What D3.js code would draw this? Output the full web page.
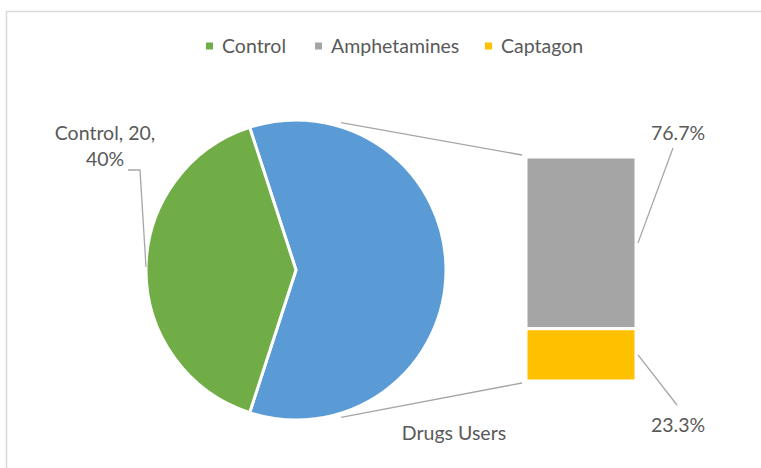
<!DOCTYPE html>
<html>
<head>
<meta charset="utf-8">
<script src="https://cdn.jsdelivr.net/npm/d3@7"></script>
<style>
  html, body { margin: 0; padding: 0; background: #fff; }
  svg { display: block; }
  text { font-family: Lato, "Open Sans", "Liberation Sans", sans-serif; fill: #595959; }
</style>
</head>
<body>
<svg id="chart" width="761" height="468"></svg>
<script>
// Main pie: control group vs. all drug users
const groups = ["Control", "Drugs Users"];
const groupValues = [20, 30];
// Breakdown of the drug users shown in the stacked bar
const subgroups = ["Amphetamines", "Captagon"];
const subValues = [23, 7];
const legendItems = ["Control", "Amphetamines", "Captagon"];

const colors = {
  "Control": "#70AD47",
  "Drugs Users": "#5B9BD5",
  "Amphetamines": "#A5A5A5",
  "Captagon": "#FFC000"
};
const lineColor = "#A6A6A6";
const fontSize = 19.5;

const svg = d3.select("#chart");

// chart area border (clipped on the right and bottom)
svg.append("path")
  .attr("d", "M6.5,468 V11.5 H761")
  .attr("fill", "none")
  .attr("stroke", "#D9D9D9")
  .attr("stroke-width", 1.5);

// ---------- legend ----------
const legendX = { "Control": 206, "Amphetamines": 315, "Captagon": 485 };
const legend = svg.append("g");
legendItems.forEach(name => {
  const g = legend.append("g").attr("transform", `translate(${legendX[name]},46)`);
  g.append("rect").attr("x", 0).attr("y", -3.5).attr("width", 7).attr("height", 7)
    .attr("fill", colors[name]);
  g.append("text").attr("x", 16).attr("y", 0).attr("dy", "0.35em")
    .attr("font-size", fontSize).text(name);
});

// ---------- pie ----------
const cx = 296, cy = 270, r = 150;
const total = d3.sum(groupValues);
const drugShare = groupValues[1] / total;
// the "other" slice (drug users) is centred on the 3 o'clock direction
const start = Math.PI / 2 - drugShare * Math.PI;

const pieData = d3.pie()
  .sort(null)
  .value(d => d.value)
  .startAngle(start)
  .endAngle(start + 2 * Math.PI)([
    { name: groups[1], value: groupValues[1] },
    { name: groups[0], value: groupValues[0] }
  ]);

const arc = d3.arc().innerRadius(0).outerRadius(r);
const pie = svg.append("g").attr("transform", `translate(${cx},${cy})`);
pie.selectAll("path").data(pieData).join("path")
  .attr("d", arc)
  .attr("fill", d => colors[d.data.name])
  .attr("stroke", "#fff")
  .attr("stroke-width", 3)
  .attr("stroke-linejoin", "miter");

// ---------- stacked bar of drug users ----------
const barX = 526, barW = 110;
const yBar = d3.scaleLinear().domain([0, d3.sum(subValues)]).range([157, 381]);
let acc = 0;
const barData = subgroups.map((name, i) => {
  const d = { name, value: subValues[i], y0: acc, y1: acc + subValues[i] };
  acc += subValues[i];
  return d;
});
svg.append("g").selectAll("rect").data(barData).join("rect")
  .attr("x", barX)
  .attr("y", d => yBar(d.y0))
  .attr("width", barW)
  .attr("height", d => yBar(d.y1) - yBar(d.y0))
  .attr("fill", d => colors[d.name])
  .attr("stroke", "#fff")
  .attr("stroke-width", 3);

// connector lines from the pie to the bar
const connAngle = 17 * Math.PI / 180;
const connR = r + 4;
const pt = a => [cx + connR * Math.sin(a), cy - connR * Math.cos(a)];
const [tx, ty] = pt(connAngle);
const [bx, by] = pt(Math.PI - connAngle);
svg.append("line").attr("x1", tx).attr("y1", ty).attr("x2", barX - 4).attr("y2", yBar(0) - 2)
  .attr("stroke", lineColor).attr("stroke-width", 1.3);
svg.append("line").attr("x1", bx).attr("y1", by).attr("x2", barX - 4).attr("y2", yBar(d3.sum(subValues)) + 2)
  .attr("stroke", lineColor).attr("stroke-width", 1.3);

// ---------- data labels ----------
const fmt = v => (v * 100).toFixed(1) + "%";
const subTotal = d3.sum(subValues);

// Control label with leader line
const ctrlPct = Math.round(groupValues[0] / total * 100) + "%";
const ctrlLabel = svg.append("text").attr("text-anchor", "middle").attr("font-size", fontSize);
ctrlLabel.append("tspan").attr("x", 105).attr("y", 140).text(`${groups[0]}, ${groupValues[0]},`);
ctrlLabel.append("tspan").attr("x", 105).attr("y", 166).text(ctrlPct);
svg.append("polyline")
  .attr("points", `128,170 140,170 ${cx - r},${cy - 3}`)
  .attr("fill", "none").attr("stroke", lineColor).attr("stroke-width", 1.3);

// bar segment labels
const labelPos = [
  { x: 678, y: 133, lx: 673, ly: 148 },
  { x: 678, y: 425, lx: 677, ly: 405 }
];
barData.forEach((d, i) => {
  const p = labelPos[i];
  svg.append("text").attr("x", p.x).attr("y", p.y).attr("dy", "0.35em")
    .attr("text-anchor", "middle").attr("font-size", fontSize)
    .text(fmt(d.value / subTotal));
  svg.append("line")
    .attr("x1", p.lx).attr("y1", p.ly)
    .attr("x2", barX + barW + 2).attr("y2", (yBar(d.y0) + yBar(d.y1)) / 2)
    .attr("stroke", lineColor).attr("stroke-width", 1.3);
});

// category label under the bar
svg.append("text").attr("x", 454).attr("y", 433).attr("dy", "0.35em")
  .attr("text-anchor", "middle").attr("font-size", fontSize).text(groups[1]);
</script>
</body>
</html>
